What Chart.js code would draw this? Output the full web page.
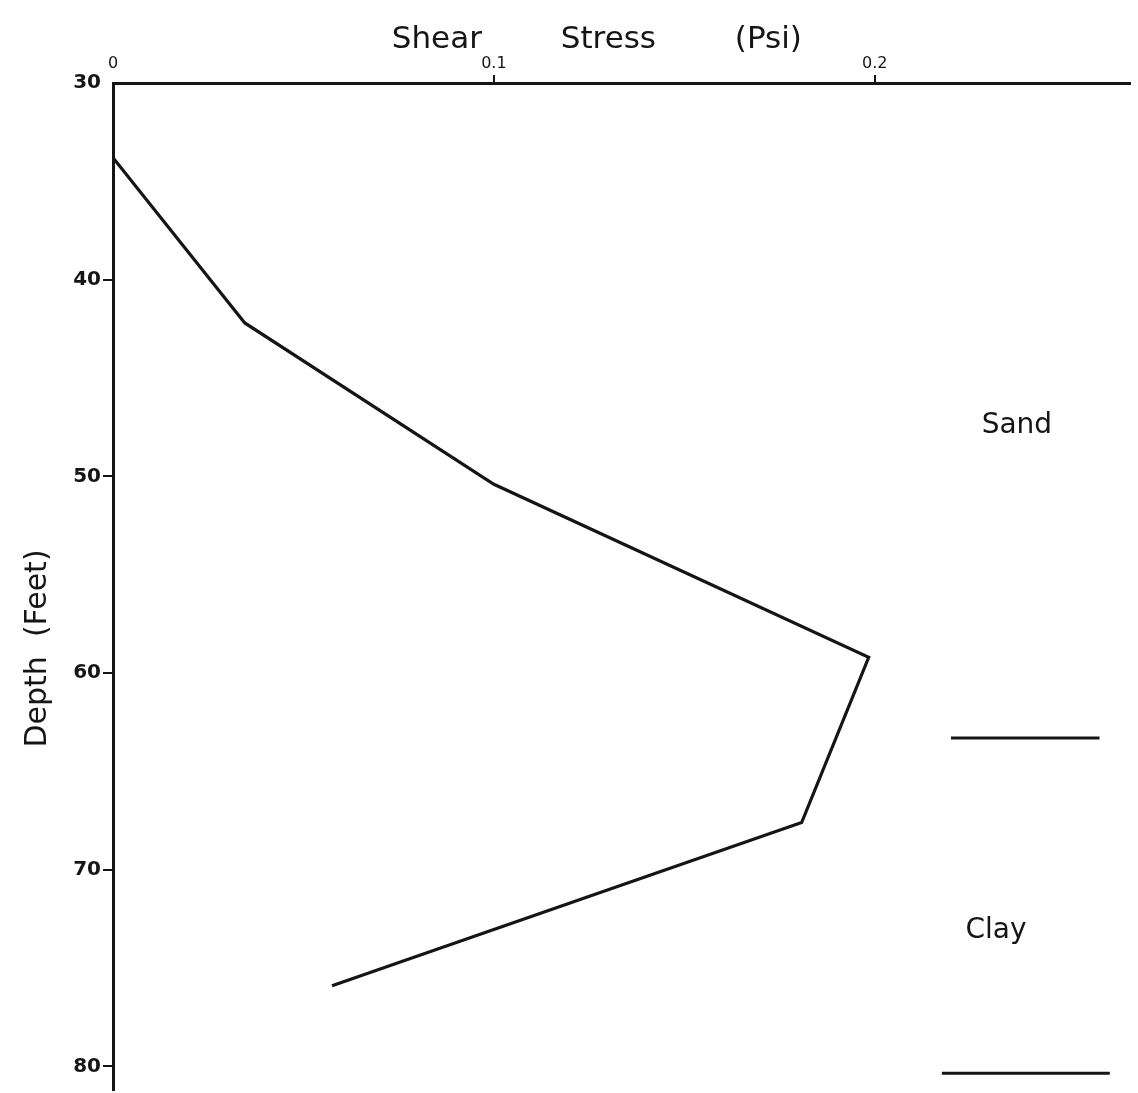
<!DOCTYPE html>
<html>
<head>
<meta charset="utf-8">
<title>Shear Stress vs Depth</title>
<script src="https://cdn.jsdelivr.net/npm/chart.js@4.4.1/dist/chart.umd.min.js"></script>
<style>
  html, body { margin: 0; padding: 0; background: #fff; }
  #wrap { width: 1138px; height: 1093px; }
</style>
</head>
<body>
<div id="wrap"><canvas id="c" width="1138" height="1093"></canvas></div>
<script>
// Shear stress profile (psi) against depth (ft)
const shearStress = [0, 0.0346, 0.100, 0.1984, 0.1808, 0.0575];
const depth       = [33.8, 42.2, 50.4, 59.2, 67.6, 75.9];

// Soil layer boundaries: short horizontal strokes at the right
const boundaryDepth  = [63.3, 80.35];
const boundaryStart  = [0.220, 0.2176];
const boundaryEnd    = [0.259, 0.2617];

// Soil layer names and where they sit (stress, depth)
const layerNames  = ['Sand', 'Clay'];
const layerStress = [0.2373, 0.2318];
const layerDepth  = [47.4, 73.1];

// Axis ticks
const stressTicks = [0, 0.1, 0.2];
const stressTickLabels = ['0', '0.1', '0.2'];
const depthTicks  = [30, 40, 50, 60, 70, 80];
const depthTickLabels = ['30', '40', '50', '60', '70', '80'];

const INK = '#151515';
const FONT = '"DejaVu Sans", "Liberation Sans", sans-serif';

const profile = shearStress.map((s, i) => ({ x: s, y: depth[i] }));
const boundaries = boundaryDepth.map((d, i) => ({
  label: 'boundary ' + (i + 1),
  data: [{ x: boundaryStart[i], y: d }, { x: boundaryEnd[i], y: d }],
  showLine: true,
  borderColor: INK,
  borderWidth: 3,
  pointRadius: 0,
  fill: false
}));

// Writes the soil layer names inside the plot at data positions
const layerLabelPlugin = {
  id: 'layerLabels',
  afterDatasetsDraw(chart) {
    const { ctx, scales } = chart;
    ctx.save();
    ctx.fillStyle = INK;
    ctx.font = '28px ' + FONT;
    ctx.textAlign = 'center';
    ctx.textBaseline = 'middle';
    layerNames.forEach((name, i) => {
      ctx.fillText(name, scales.x.getPixelForValue(layerStress[i]), scales.y.getPixelForValue(layerDepth[i]));
    });
    ctx.restore();
  }
};

new Chart(document.getElementById('c'), {
  type: 'scatter',
  data: {
    datasets: [{
      label: 'Shear stress',
      data: profile,
      showLine: true,
      borderColor: INK,
      borderWidth: 3.2,
      pointRadius: 0,
      fill: false,
      tension: 0
    }, ...boundaries]
  },
  options: {
    responsive: false,
    animation: false,
    layout: { padding: { top: 10, left: 10, right: 8, bottom: 3 } },
    plugins: {
      legend: { display: false },
      tooltip: { enabled: false },
      title: { display: false }
    },
    scales: {
      x: {
        type: 'linear',
        position: 'top',
        min: 0,
        max: 0.267,
        afterBuildTicks: s => { s.ticks = stressTicks.map(v => ({ value: v })); },
        afterFit: s => { s.height = 73; s.paddingLeft = 0; s.paddingRight = 0; },
        ticks: {
          color: INK,
          font: { family: FONT, size: 16 },
          padding: 2,
          maxRotation: 0,
          callback: (v) => stressTickLabels[stressTicks.indexOf(v)] ?? ''
        },
        grid: {
          drawOnChartArea: false,
          drawTicks: true,
          tickLength: 8,
          lineWidth: 2,
          color: c => (c.tick && c.tick.value === 0) ? 'rgba(0,0,0,0)' : INK
        },
        border: { display: true, color: INK, width: 3 },
        title: {
          display: true,
          text: 'Shear        Stress        (Psi)     ',
          color: INK,
          font: { family: FONT, size: 31 },
          padding: { top: 11, bottom: 0 }
        }
      },
      y: {
        type: 'linear',
        position: 'left',
        reverse: true,
        min: 30,
        max: 81.2,
        afterBuildTicks: s => { s.ticks = depthTicks.map(v => ({ value: v })); },
        afterFit: s => { s.width = 103; s.paddingTop = 0; s.paddingBottom = 0; },
        ticks: {
          color: INK,
          font: { family: FONT, size: 20, weight: 'bold' },
          padding: 2,
          callback: (v) => depthTickLabels[depthTicks.indexOf(v)] ?? ''
        },
        grid: {
          drawOnChartArea: false,
          drawTicks: true,
          tickLength: 10,
          lineWidth: 2,
          color: c => (c.tick && c.tick.value === 30) ? 'rgba(0,0,0,0)' : INK
        },
        border: { display: true, color: INK, width: 3 },
        title: {
          display: true,
          text: 'Depth  (Feet)             ',
          color: INK,
          font: { family: FONT, size: 30 },
          padding: { top: 10, bottom: 0 }
        }
      }
    }
  },
  plugins: [layerLabelPlugin]
});
</script>
</body>
</html>
